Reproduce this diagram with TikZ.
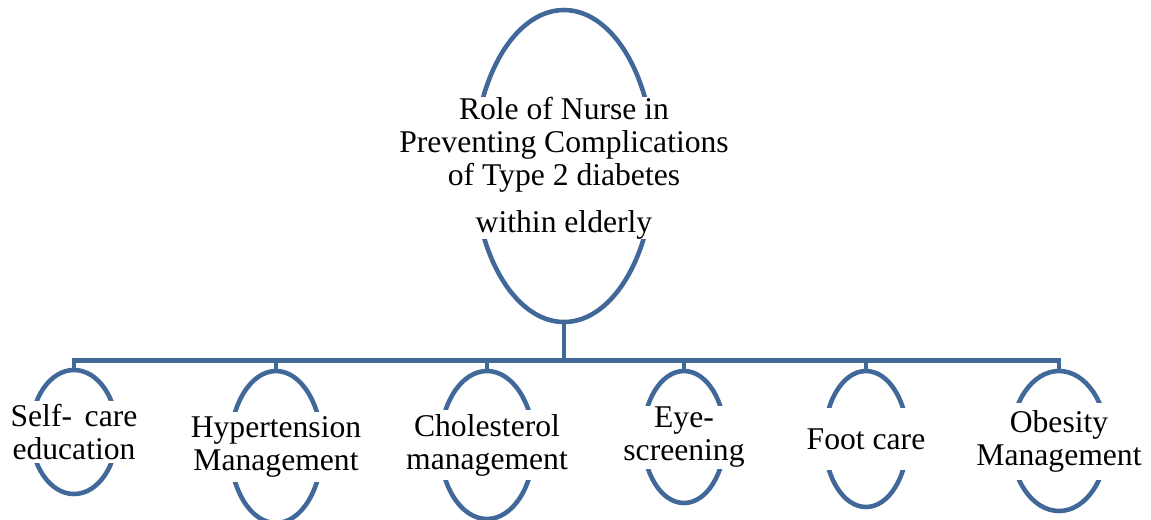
\documentclass[tikz,border=0pt]{standalone}
\usepackage{fontspec}
\setmainfont{Liberation Serif}
\usetikzlibrary{shapes.geometric}
\definecolor{linkblue}{RGB}{64,104,152}

\begin{document}
\begin{tikzpicture}[
  oval/.style={ellipse, draw=linkblue, line width=2.6pt, inner sep=0pt},
  caption/.style={fill=white, inner sep=0pt, align=center,
    font=\fontsize{18}{18.8}\selectfont},
  link/.style={draw=linkblue, line width=2.6pt}
]
\useasboundingbox (0,0) rectangle (23.02,-10.38);

% Root
\node[oval, minimum width=3.6cm, minimum height=6.24cm] (role) at (11.28,-3.32) {};
\node[caption, minimum height=2.72cm] (role-text) at (11.28,-3.36)
  {Role of Nurse in\\ Preventing Complications\\ of Type 2 diabetes\\[8pt] within elderly};

% Children
\node[oval, minimum width=1.72cm, minimum height=2.48cm] (selfcare) at (1.48,-8.64) {};
\node[oval, minimum width=1.84cm, minimum height=3.04cm] (hyper)    at (5.52,-8.94) {};
\node[oval, minimum width=1.88cm, minimum height=2.96cm] (chol)     at (9.74,-8.90) {};
\node[oval, minimum width=1.64cm, minimum height=2.64cm] (eye)      at (13.68,-8.74) {};
\node[oval, minimum width=1.66cm, minimum height=2.72cm] (foot)     at (17.32,-8.78) {};
\node[oval, minimum width=1.92cm, minimum height=2.80cm] (obesity)  at (21.18,-8.82) {};

\node[caption, minimum height=1.24cm] (selfcare-text) at (selfcare.center) {Self-\hspace{0.4em}care\\ education};
\node[caption, minimum height=1.40cm] (hyper-text)    at (hyper.center)    {Hypertension\\ Management};
\node[caption, minimum height=1.40cm] (chol-text)     at (chol.center)     {Cholesterol\\ management};
\node[caption, minimum height=1.26cm] (eye-text)      at (eye.center)      {Eye-\\ screening};
\node[caption, minimum height=1.24cm] (foot-text)     at (foot.center)     {Foot care};
\node[caption, minimum height=1.54cm] (obesity-text)  at (obesity.center)  {Obesity\\ Management};

% Connectors
\coordinate (bus) at (11.28,-7.21);
\draw[link] (role.south) -- (bus) -| (selfcare.north);
\draw[link] (bus) -| (hyper.north);
\draw[link] (bus) -| (chol.north);
\draw[link] (bus) -| (eye.north);
\draw[link] (bus) -| (foot.north);
\draw[link] (bus) -| (obesity.north);

\end{tikzpicture}
\end{document}
